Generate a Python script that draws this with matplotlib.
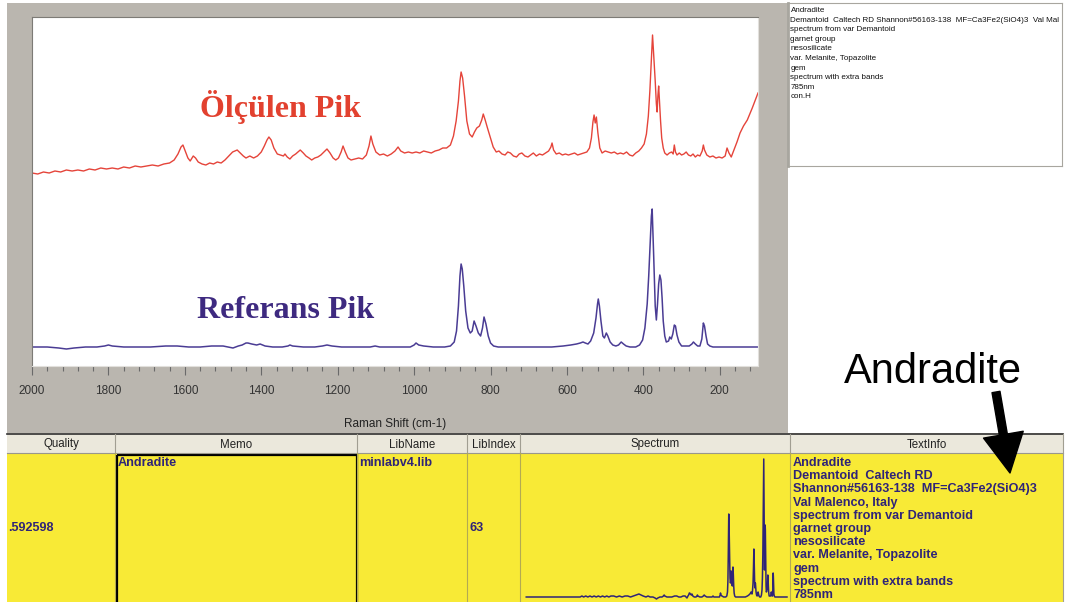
import matplotlib
matplotlib.use('Agg')
import matplotlib.pyplot as plt
from matplotlib.patches import Rectangle, FancyArrowPatch

plt.rcParams['font.family'] = ['Liberation Sans', 'DejaVu Sans']

W, H = 1068, 602

# measured spectrum (Raman shift cm-1, relative intensity)
olculen = [(2000,193),(1985,192),(1970,194),(1955,193),(1940,195),(1925,194),(1910,196),(1895,195),
           (1880,196),(1865,195),(1850,197),(1835,196),(1820,198),(1805,197),(1790,198),(1775,197),
           (1760,199),(1745,198),(1730,200),(1715,199),(1700,200),(1685,201),(1670,200),(1655,202),
           (1640,203),(1628,206),(1618,212),(1610,219),(1605,221),(1600,216),(1592,208),(1586,205),
           (1578,210),(1572,208),(1565,204),(1555,202),(1545,201),(1535,203),(1525,202),(1515,204),
           (1505,203),(1495,206),(1485,210),(1475,214),(1463,216),(1455,213),(1447,210),(1440,208),
           (1430,210),(1420,208),(1410,210),(1400,214),(1392,220),(1385,226),(1380,229),(1374,226),
           (1367,218),(1358,212),(1350,211),(1342,210),(1338,212),(1332,209),(1325,207),(1318,210),
           (1310,212),(1304,214),(1298,216),(1290,213),(1283,210),(1275,208),(1268,206),(1260,208),
           (1252,209),(1244,211),(1236,214),(1228,217),(1220,213),(1212,208),(1205,206),(1198,208),
           (1191,214),(1186,220),(1180,214),(1173,208),(1165,206),(1155,207),(1145,208),(1135,207),
           (1125,211),(1118,220),(1113,230),(1108,222),(1100,214),(1090,211),(1080,212),(1070,210),
           (1060,212),(1050,215),(1042,219),(1035,215),(1025,213),(1015,214),(1005,213),(995,214),
           (985,213),(975,215),(965,214),(955,213),(945,215),(935,216),(925,218),(915,218),(905,221),
           (897,230),(890,245),(884,265),(880,285),(877,294),(873,288),(868,270),(862,245),(855,232),
           (848,229),(842,234),(836,238),(829,240),(823,246),(819,252),(814,246),(808,238),(800,228),
           (793,219),(785,214),(778,215),(770,212),(762,211),(755,214),(748,213),(740,210),(732,209),
           (725,212),(718,213),(710,210),(702,209),(695,211),(688,213),(680,210),(672,212),(664,211),
           (656,213),(648,215),(642,219),(639,223),(635,216),(628,212),(620,213),(612,211),(604,212),
           (596,211),(588,212),(580,213),(572,211),(564,212),(556,213),(548,214),(541,218),(536,228),
           (532,244),(529,251),(526,243),(523,249),(519,233),(514,218),(508,213),(500,215),(492,214),
           (484,213),(476,214),(468,212),(460,213),(452,212),(444,214),(436,211),(428,210),(420,213),
           (412,215),(405,218),(398,222),(392,232),(387,250),(383,275),(380,300),(378,315),(376,331),
           (374,318),(372,305),(369,285),(366,262),(364,254),(362,270),(360,280),(358,266),(355,245),
           (352,228),(348,218),(344,213),(338,211),(332,213),(326,214),(322,212),(319,221),(316,214),
           (312,211),(306,213),(300,211),(294,212),(288,214),(282,211),(276,210),(270,212),(264,209),
           (258,211),(252,210),(246,215),(243,221),(240,216),(234,211),(226,209),(218,210),(210,208),
           (202,209),(194,208),(186,210),(181,218),(176,213),(170,209),(165,214),(155,224),(147,233),
           (138,240),(128,246),(115,258),(100,273)]

# library reference spectrum (Andradite)
referans = [(3770,19),(3400,19),(3000,19),(2975,20),(2950,19),(2920,20),(2890,19),(2860,20),
            (2830,19),(2800,20),(2770,19),(2740,20),(2710,19),(2680,20),(2650,19),(2620,20),
            (2590,19),(2560,20),(2520,20),(2480,19),(2440,20),(2400,19),(2360,20),(2320,20),
            (2280,19),(2240,20),(2200,21),(2160,22),(2130,21),(2100,20),(2060,19),(2030,20),
            (2000,19),(1960,19),(1930,18),(1910,17),(1890,18),(1860,19),(1830,19),(1810,20),
            (1800,21),(1790,20),(1760,19),(1720,19),(1690,19),(1650,20),(1620,20),(1590,19),
            (1560,19),(1530,20),(1500,20),(1474,18),(1460,20),(1450,21),(1440,23),(1435,23),
            (1425,22),(1412,21),(1403,22),(1390,20),(1370,19),(1345,19),(1330,20),(1325,21),
            (1318,20),(1290,19),(1260,19),(1240,20),(1228,21),(1215,20),(1190,19),(1150,19),
            (1115,19),(1102,20),(1090,19),(1040,19),(1010,19),(1000,21),(995,23),(988,21),
            (975,20),(950,19),(920,19),(905,20),(895,24),(889,35),(884,60),(880,90),(877,102),
            (874,97),(870,80),(865,55),(859,38),(853,33),(848,35),(843,45),(838,40),(832,33),
            (826,30),(821,38),(817,49),(812,42),(806,30),(800,23),(792,20),(780,19),(760,19),
            (720,19),(680,19),(640,19),(610,20),(590,21),(575,22),(565,23),(558,24),(552,23),
            (545,22),(538,25),(530,33),(524,48),(520,62),(518,67),(515,60),(511,45),(506,30),
            (502,28),(497,33),(493,30),(487,24),(480,21),(472,20),(465,21),(458,24),(452,22),
            (445,20),(435,19),(420,19),(410,21),(402,26),(396,38),(390,62),(386,90),(382,125),
            (379,150),(377,157),(375,135),(373,110),(371,85),(369,60),(366,46),(363,62),(360,82),
            (357,91),(354,86),(351,68),(348,45),(344,30),(340,24),(334,25),(331,29),(327,27),
            (323,32),(319,41),(316,40),(312,31),(307,24),(300,20),(290,20),(280,20),(273,22),
            (269,24),(264,22),(258,20),(252,20),(247,27),(243,43),(240,40),(236,30),(232,22),
            (226,20),(218,19),(200,19),(150,19),(100,19),(45,19)]

olculen_shift, olculen_int = zip(*olculen)
referans_shift, referans_int = zip(*referans)

x_ticks = [2000, 1800, 1600, 1400, 1200, 1000, 800, 600, 400, 200]

info_lines = ['Andradite',
              'Demantoid  Caltech RD Shannon#56163-138  MF=Ca3Fe2(SiO4)3  Val Mal',
              'spectrum from var Demantoid', 'garnet group', 'nesosilicate',
              'var. Melanite, Topazolite', 'gem', 'spectrum with extra bands', '785nm', 'con.H']

columns = ['Quality', 'Memo', 'LibName', 'LibIndex', 'Spectrum', 'TextInfo']
quality = '.592598'
memo = 'Andradite'
libname = 'minlabv4.lib'
libindex = '63'
textinfo_lines = ['Andradite', 'Demantoid  Caltech RD', 'Shannon#56163-138  MF=Ca3Fe2(SiO4)3',
                  'Val Malenco, Italy', 'spectrum from var Demantoid', 'garnet group',
                  'nesosilicate', 'var. Melanite, Topazolite', 'gem',
                  'spectrum with extra bands', '785nm']

GRAY = '#bab6af'
RED = '#e5443a'
BLUE = '#4a3c94'
PURPLE = '#2f2478'
YELLOW = '#f8ea36'
HEAD = '#ebe8dc'

col_edges = [7, 115, 357, 467, 520, 790, 1063]


def box(x0, y0, x1, y1):
    # pixel box (top-left origin) -> figure fraction
    return [x0 / W, 1 - y1 / H, (x1 - x0) / W, (y1 - y0) / H]


fig = plt.figure(figsize=(W / 100, H / 100), dpi=100)
fig.patch.set_facecolor('white')

# background: window panel + result table
bg = fig.add_axes([0, 0, 1, 1])
bg.set_xlim(0, W)
bg.set_ylim(H, 0)
bg.axis('off')
bg.add_patch(Rectangle((7, 3), 781, 430, fc=GRAY, ec='none'))
bg.add_patch(Rectangle((7, 433), 1056, 20, fc=HEAD, ec='none'))
bg.add_patch(Rectangle((7, 453), 1056, 150, fc=YELLOW, ec='none'))
bg.plot([7, 1063], [433.5, 433.5], color='#303030', lw=1.2)
bg.plot([7, 1063], [453, 453], color='#9a978c', lw=0.8)
for x in col_edges[1:-1]:
    bg.plot([x, x], [434, 453], color='#a19e92', lw=0.8)
    bg.plot([x, x], [453, 603], color='#b3aa52', lw=0.8)
bg.plot([1063, 1063], [434, 603], color='#a19e92', lw=0.8)
for i, name in enumerate(columns):
    cx = (col_edges[i] + col_edges[i + 1]) / 2
    bg.text(cx, 447.5, name, ha='center', va='baseline', fontsize=8.3, color='#222222')
bg.add_patch(Rectangle((116.5, 455), 240, 150, fill=False, ec='black', lw=1.6))

bold = dict(fontsize=9.1, fontweight='bold', color=PURPLE, va='baseline')
bg.text(8, 531, quality, ha='left', **bold)
bg.text(118, 466, memo, ha='left', **bold)
bg.text(359, 466, libname, ha='left', **bold)
bg.text(469, 531, libindex, ha='left', **bold)
for i, line in enumerate(textinfo_lines):
    bg.text(793, 466 + 13.2 * i, line, ha='left', **bold)
bg.text(395, 427, 'Raman Shift (cm-1)', ha='center', va='baseline', fontsize=8.5, color='#222222')

# main spectrum plot
ax = fig.add_axes(box(32, 17, 758, 366))
ax.set_facecolor('white')
ax.plot(olculen_shift, olculen_int, color=RED, lw=1.0)
ax.plot(referans_shift, referans_int, color=BLUE, lw=1.1)
ax.set_xlim(2000, 100)
ax.set_ylim(0, 349)
ax.set_yticks([])
ax.set_xticks(x_ticks)
ax.set_xticks(range(2000, 100, -40), minor=True)
ax.tick_params(axis='x', which='major', length=6.8, width=0.8, color='#6a6a6a',
               labelsize=8.5, labelcolor='#333333', pad=7)
ax.tick_params(axis='x', which='minor', length=3.6, width=0.8, color='#6a6a6a')
for side in ['left', 'top']:
    ax.spines[side].set_color('#7d7b76')
for side in ['right', 'bottom']:
    ax.spines[side].set_color('#e2e0dc')

# small spectrum in the table cell
mini = fig.add_axes(box(521, 453, 790, 602))
mini.patch.set_alpha(0)
mini.plot(referans_shift, referans_int, color=PURPLE, lw=1.1)
mini.set_xlim(3845, 2)
mini.set_ylim(14, 163)
mini.axis('off')

# info text box top right
info = fig.add_axes(box(788, 3, 1062, 166))
info.set_xlim(788, 1062)
info.set_ylim(166, 3)
info.set_xticks([])
info.set_yticks([])
for side in info.spines:
    info.spines[side].set_color('#a8a69f')
info.spines['left'].set_linewidth(2)
for i, line in enumerate(info_lines):
    info.text(790.5, 12 + 9.6 * i, line, ha='left', va='baseline', fontsize=5.8,
              color='#111111', clip_on=True)

# overlay labels and arrow
top = fig.add_axes([0, 0, 1, 1])
top.set_xlim(0, W)
top.set_ylim(H, 0)
top.axis('off')
top.patch.set_alpha(0)
top.text(200, 117, 'Ölçülen Pik', fontsize=23, fontweight='bold', family='Liberation Serif',
         color='#e2412f', ha='left', va='baseline')
top.text(197, 318, 'Referans Pik', fontsize=23, fontweight='bold', family='Liberation Serif',
         color='#3e2a80', ha='left', va='baseline')
top.text(933, 372, 'Andradite', fontsize=30, color='black', ha='center', va='center')
top.add_patch(FancyArrowPatch((996, 392), (1010, 473), mutation_scale=1,
                              arrowstyle='simple,head_length=28,head_width=29,tail_width=5.8',
                              color='black', shrinkA=0, shrinkB=0))

fig.savefig('out.png', dpi=100)
